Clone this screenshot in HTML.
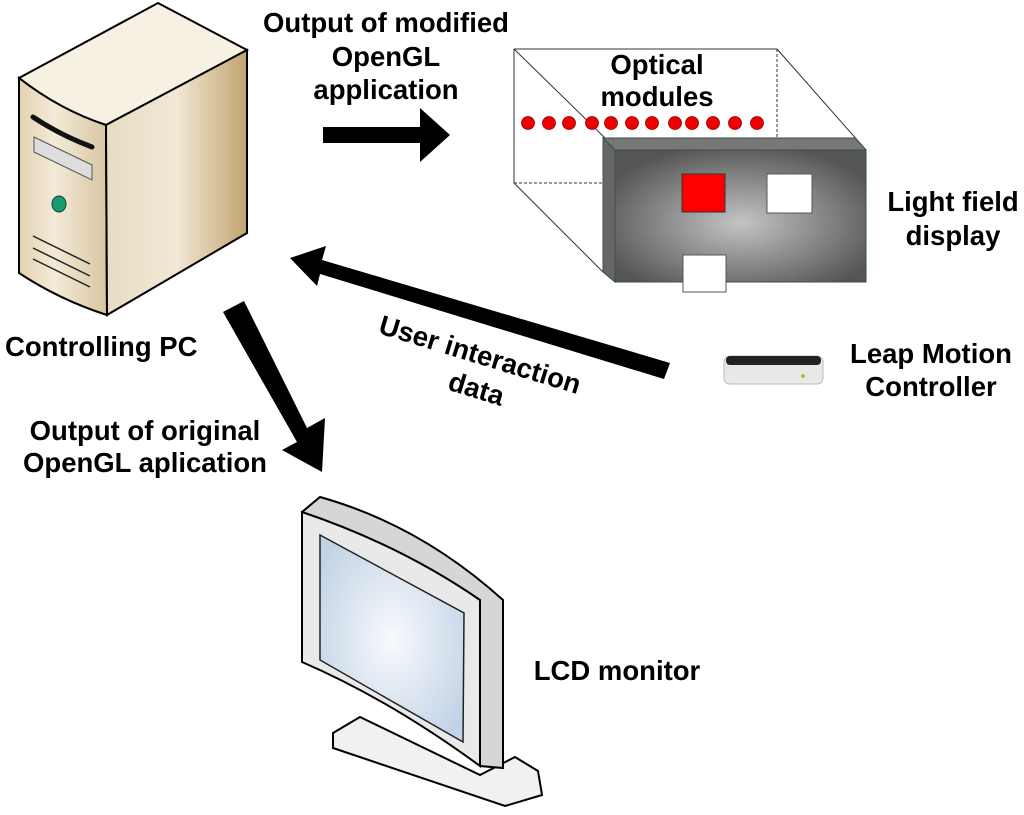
<!DOCTYPE html>
<html><head><style>body{margin:0;background:#fff}svg{display:block}text{font-family:"Liberation Sans",sans-serif;font-weight:bold;font-size:27.5px;fill:#000}</style></head><body>
<svg width="1024" height="815" viewBox="0 0 1024 815">
<defs>
<linearGradient id="pcf" x1="0" y1="0" x2="1" y2="0"><stop offset="0" stop-color="#e3d2b0"/><stop offset="0.4" stop-color="#f3ead8"/><stop offset="1" stop-color="#d9c6a0"/></linearGradient>
<linearGradient id="pcs" x1="0" y1="0" x2="1" y2="0"><stop offset="0" stop-color="#e8dcc2"/><stop offset="0.5" stop-color="#f1e8d6"/><stop offset="1" stop-color="#c2a371"/></linearGradient>
<radialGradient id="lf" cx="0.5" cy="0.55" r="0.6"><stop offset="0" stop-color="#c4c4c4"/><stop offset="1" stop-color="#555"/></radialGradient>
<radialGradient id="scr" cx="0.5" cy="0.5" r="0.6"><stop offset="0" stop-color="#f8fafd"/><stop offset="1" stop-color="#c3d3e6"/></radialGradient>
</defs>
<!-- PC -->
<path d="M19,78 L158,3 L247,50 L106,125 Q60,110 19,78 Z" fill="#f7f1e4" stroke="#000" stroke-width="2"/>
<path d="M19,78 Q60,110 106,125 L107,315 Q60,300 19,273 Z" fill="url(#pcf)" stroke="#000" stroke-width="2"/>
<polygon points="106,125 247,50 247,233 107,315" fill="url(#pcs)" stroke="#000" stroke-width="2"/>
<path d="M33,117 Q60,135 92,147" fill="none" stroke="#111" stroke-width="5" stroke-linecap="round"/>
<polygon points="34,137 92,165 92,180 34,152" fill="#ddd" stroke="#555"/>
<ellipse cx="59" cy="204" rx="7" ry="8" fill="#1a9a70" stroke="#0a4a33"/>
<path d="M33,236 L90,264 M33,248 L90,276 M33,259 L90,287" stroke="#222" stroke-width="1.5"/>
<!-- arrows -->
<polygon points="323,127 420,127 420,108 450,135 420,162 420,143 323,143" fill="#000"/>
<polygon points="670,363 322,260 326,246 290,258 317,286 320,274 664,379" fill="#000"/>
<polygon points="223,312 244,301 307,428 325,418 322,472 282,450 297,442" fill="#000"/>
<!-- light field display -->
<g stroke="#333" stroke-width="1" fill="none">
<path d="M514,49 L777,49 M514,49 L514,183 M514,49 L605,138 M777,49 L866,150 M514,183 L603,272"/>
<path d="M777,49 L777,138 M514,183 L603,183" stroke-dasharray="3,2"/>
</g>
<g fill="#e00" stroke="#900" stroke-width="0.8">
<circle cx="528" cy="123" r="6.5"/><circle cx="549" cy="123" r="6.5"/><circle cx="569" cy="123" r="6.5"/><circle cx="592" cy="123" r="6.5"/><circle cx="611" cy="123" r="6.5"/><circle cx="632" cy="123" r="6.5"/><circle cx="652" cy="123" r="6.5"/><circle cx="675" cy="123" r="6.5"/><circle cx="692" cy="123" r="6.5"/><circle cx="713" cy="123" r="6.5"/><circle cx="735" cy="123" r="6.5"/><circle cx="757" cy="123" r="6.5"/>
</g>
<polygon points="603,138 855,138 866,150 615,150" fill="#777" stroke="#354"/>
<polygon points="603,138 615,150 615,282 603,272" fill="#666" stroke="#354"/>
<rect x="615" y="150" width="251" height="132" fill="url(#lf)" stroke="#354"/>
<rect x="682" y="174" width="43" height="38" fill="#f00" stroke="#333"/>
<rect x="767" y="174" width="45" height="39" fill="#fff" stroke="#555"/>
<rect x="683" y="255" width="43" height="37" fill="#fff" stroke="#555"/>
<!-- leap motion -->
<rect x="724" y="356" width="99" height="28" rx="6" fill="#e8e8e8" stroke="#bbb"/>
<rect x="726" y="356" width="95" height="9" rx="4" fill="#222"/>
<circle cx="803" cy="376" r="2" fill="#9c3"/>
<!-- monitor -->
<polygon points="333,733 360,717 480,775 515,757 538,771 542,795 505,806 333,748" fill="#f1f1f1" stroke="#000" stroke-width="2"/>
<path d="M302,512 L320,497 Q420,525 503,600 L503,768 L480,766 Z" fill="#d6d6d6" stroke="#000" stroke-width="2"/>
<path d="M302,512 Q400,545 480,600 L480,766 Q390,700 302,662 Z" fill="#e9e9e9" stroke="#000" stroke-width="2"/>
<polygon points="320,535 464,613 463,742 320,660" fill="url(#scr)" stroke="#222" stroke-width="1.5"/>
<!-- text -->
<text x="386" y="32" text-anchor="middle">Output of modified</text>
<text x="386" y="66" text-anchor="middle">OpenGL</text>
<text x="386" y="99" text-anchor="middle">application</text>
<text x="657" y="74" text-anchor="middle">Optical</text>
<text x="657" y="106" text-anchor="middle">modules</text>
<text x="953" y="211" text-anchor="middle">Light field</text>
<text x="953" y="245" text-anchor="middle">display</text>
<text x="931" y="363" text-anchor="middle">Leap Motion</text>
<text x="931" y="396" text-anchor="middle">Controller</text>
<text x="5" y="356">Controlling PC</text>
<text x="145" y="440" text-anchor="middle">Output of original</text>
<text x="145" y="472" text-anchor="middle">OpenGL aplication</text>
<text x="617" y="680" text-anchor="middle">LCD monitor</text>
<text x="480" y="364" text-anchor="middle" transform="rotate(17 480 355)">User interaction</text>
<text x="476" y="398" text-anchor="middle" transform="rotate(17 476 390)">data</text>
</svg>
</body></html>
